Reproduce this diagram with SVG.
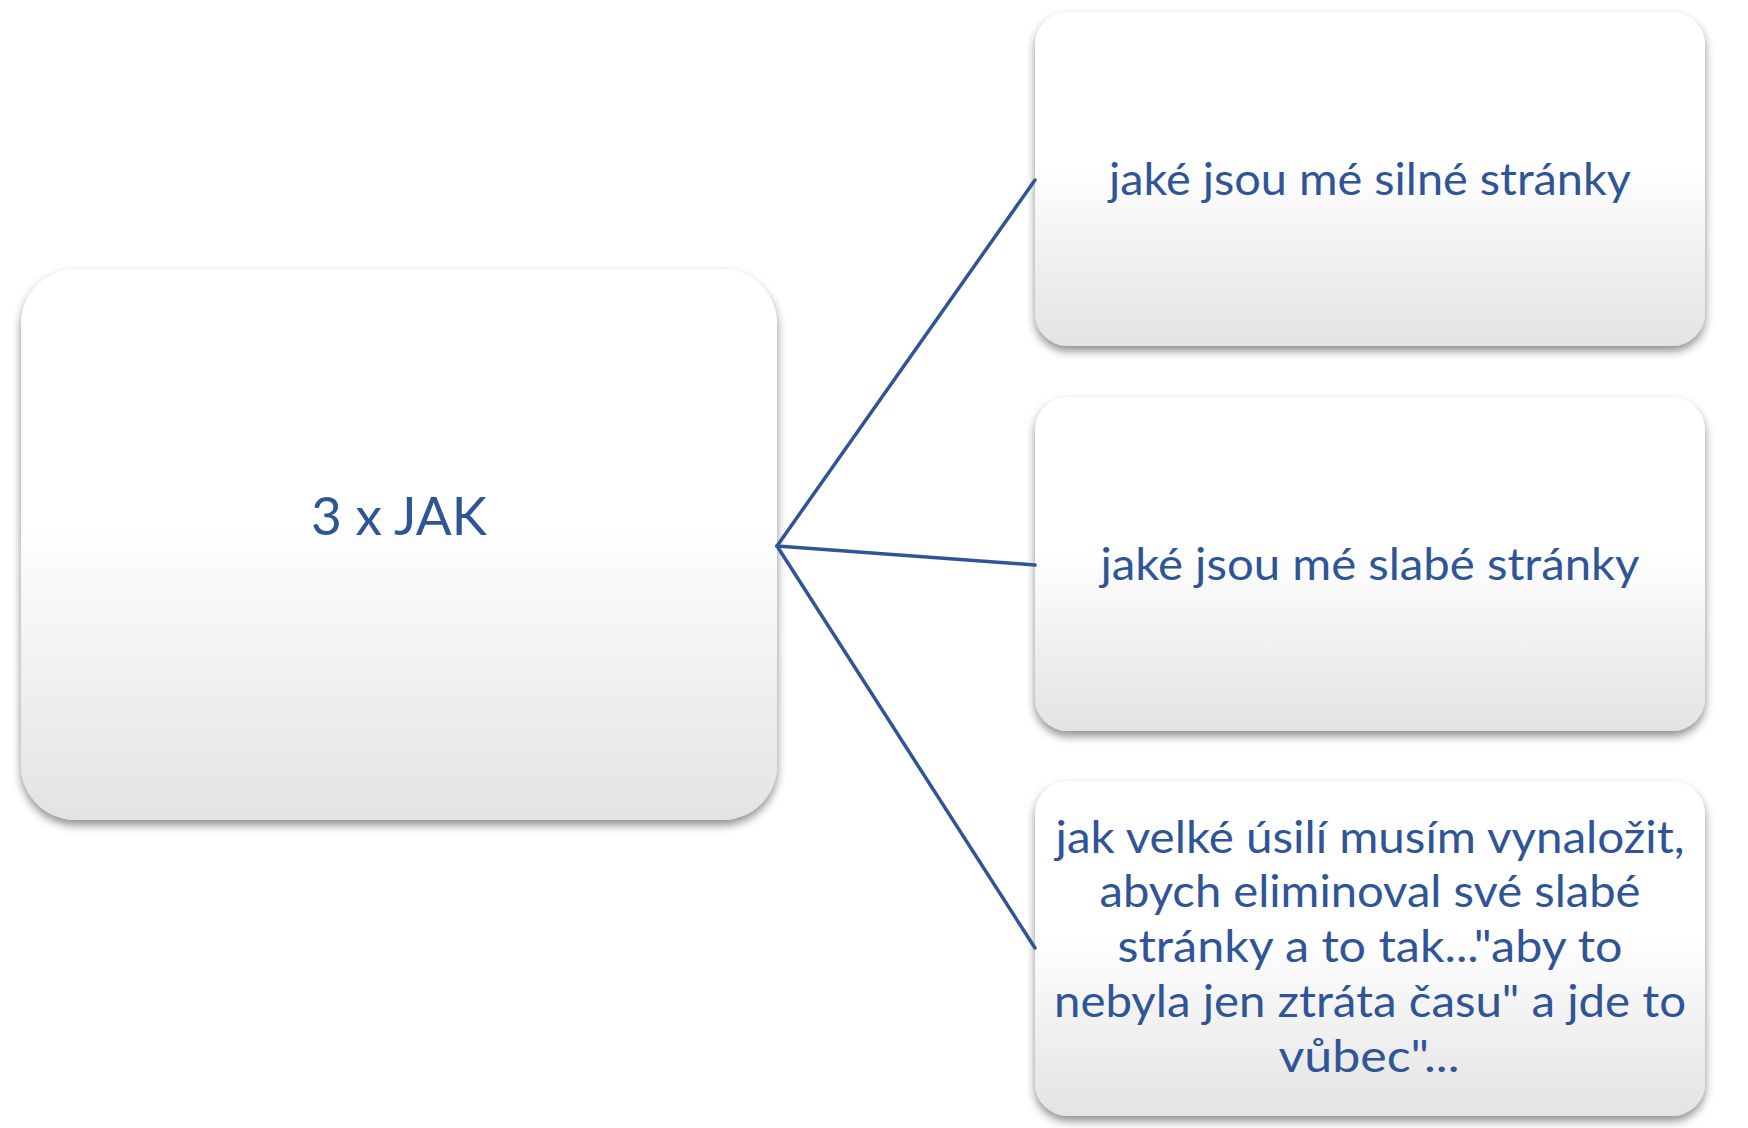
<svg xmlns="http://www.w3.org/2000/svg" width="1748" height="1128" viewBox="0 0 1748 1128">
  <style>
    .box { fill: url(#boxGrad); filter: url(#shadow); }
    .lbl { font-family: Lato, "Open Sans", "Liberation Sans", sans-serif; fill: #2F5597; text-anchor: middle; }
    .small { font-size: 45px; }
    .big { font-size: 53px; }
    .conn { stroke: #2F5597; stroke-width: 3.5; fill: none; stroke-linecap: round; }
  </style>
  <defs>
    <linearGradient id="boxGrad" x1="0" y1="0" x2="0" y2="1">
      <stop offset="0" stop-color="#FFFFFF"/>
      <stop offset="0.45" stop-color="#FFFFFF"/>
      <stop offset="1" stop-color="#E3E3E3"/>
    </linearGradient>
    <filter id="shadow" x="-10%" y="-10%" width="120%" height="125%">
      <feDropShadow dx="0" dy="5" stdDeviation="5" flood-color="#000000" flood-opacity="0.45"/>
    </filter>
  </defs>
  <rect x="0" y="0" width="1748" height="1128" fill="#FFFFFF"/>

  <g id="node-main">
    <rect class="box" x="21" y="269" width="756" height="551" rx="55" ry="55"/>
    <text class="lbl big" x="399" y="535" textLength="176" lengthAdjust="spacingAndGlyphs">3 x JAK</text>
  </g>

  <g id="node-silne">
    <rect class="box" x="1035" y="12" width="670" height="334" rx="33" ry="33"/>
    <text class="lbl small" x="1370" y="195" textLength="522" lengthAdjust="spacingAndGlyphs">jaké jsou mé silné stránky</text>
  </g>

  <g id="node-slabe">
    <rect class="box" x="1035" y="397" width="670" height="334" rx="33" ry="33"/>
    <text class="lbl small" x="1370" y="580" textLength="539" lengthAdjust="spacingAndGlyphs">jaké jsou mé slabé stránky</text>
  </g>

  <g id="node-usili">
    <rect class="box" x="1035" y="781" width="670" height="335" rx="33" ry="33"/>
    <text class="lbl small" x="1370" y="853" textLength="629" lengthAdjust="spacingAndGlyphs">jak velké úsilí musím vynaložit,</text>
    <text class="lbl small" x="1370" y="907" textLength="541" lengthAdjust="spacingAndGlyphs">abych eliminoval své slabé</text>
    <text class="lbl small" x="1370" y="962" textLength="505" lengthAdjust="spacingAndGlyphs">stránky a to tak..."aby to</text>
    <text class="lbl small" x="1370" y="1017" textLength="632" lengthAdjust="spacingAndGlyphs">nebyla jen ztráta času" a jde to</text>
    <text class="lbl small" x="1369" y="1072" textLength="181" lengthAdjust="spacingAndGlyphs">vůbec"...</text>
  </g>

  <g id="connectors">
    <line class="conn" x1="777" y1="546" x2="1035" y2="180"/>
    <line class="conn" x1="777" y1="546" x2="1035" y2="565"/>
    <line class="conn" x1="777" y1="546" x2="1035" y2="948"/>
  </g>
</svg>
